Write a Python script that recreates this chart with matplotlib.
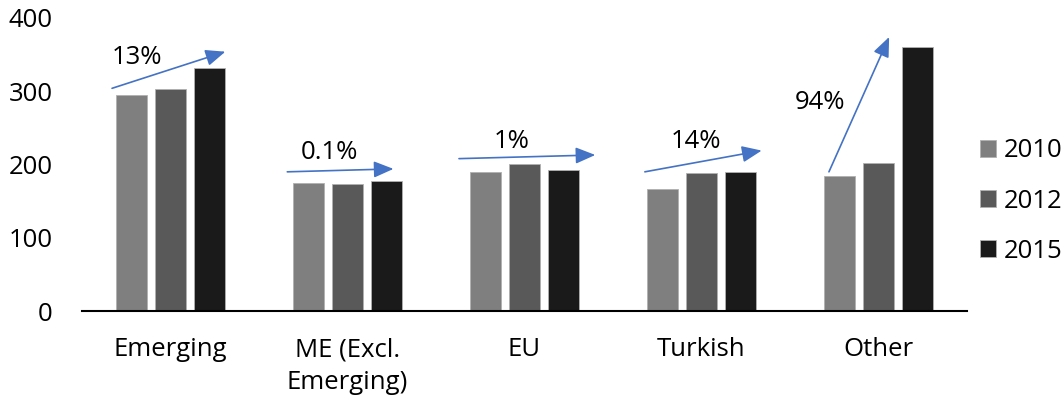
import matplotlib.pyplot as plt
import numpy as np

plt.rcParams['font.family'] = ['Open Sans', 'DejaVu Sans']

categories = ['Emerging', 'ME (Excl.\nEmerging)', 'EU', 'Turkish', 'Other']
years = ['2010', '2012', '2015']
values_2010 = [295, 175, 190, 167, 184]
values_2012 = [303, 174, 200, 188, 202]
values_2015 = [332, 177, 192, 190, 360]
colors = ['#7f7f7f', '#595959', '#1a1a1a']

# growth arrows: label, (x0, y0), (x1, y1), label position
growth_labels = ['13%', '0.1%', '1%', '14%', '94%']
arrow_starts = [(-0.33, 304), (0.66, 190), (1.63, 208), (2.68, 190), (3.72, 190)]
arrow_ends = [(0.31, 354), (1.26, 194), (2.40, 213), (3.34, 219), (4.06, 374)]
label_pos = [(-0.19, 346), (0.90, 216), (1.93, 231), (2.97, 231), (3.67, 284)]

FS = 18.5

fig = plt.figure(figsize=(10.63, 3.96), dpi=100)
ax = fig.add_axes([0.0771, 0.2146, 0.8326, 0.74])

x = np.arange(len(categories))
width = 0.175
offsets = [-0.22, 0.0, 0.22]
series = [values_2010, values_2012, values_2015]
for vals, off, col, yr in zip(series, offsets, colors, years):
    ax.bar(x + off, vals, width, color=col, edgecolor='#b0b0b0', linewidth=0.6, label=yr)

for lab, s, e, p in zip(growth_labels, arrow_starts, arrow_ends, label_pos):
    ax.annotate('', xy=e, xytext=s,
                arrowprops=dict(arrowstyle='-|>,head_length=0.6,head_width=0.25',
                                color='#4472c4', lw=1.2, mutation_scale=20,
                                shrinkA=0, shrinkB=0))
    ax.text(p[0], p[1], lab, ha='center', va='center', fontsize=FS, color='black')

ax.set_xlim(-0.5, 4.5)
ax.set_ylim(0, 400)
ax.set_yticks([0, 100, 200, 300, 400])
ax.set_xticks(x)
ax.set_xticklabels(categories, fontsize=FS, linespacing=1.38)
ax.tick_params(axis='y', length=0, labelsize=FS, pad=21)
ax.tick_params(axis='x', length=0, pad=19)
for side in ['top', 'right', 'left']:
    ax.spines[side].set_visible(False)
ax.spines['bottom'].set_linewidth(1.5)
ax.spines['bottom'].set_color('black')

ax.legend(loc='center left', bbox_to_anchor=(0.912, 0.492), bbox_transform=fig.transFigure,
          frameon=False, fontsize=FS, handlelength=0.65, handleheight=0.65,
          handletextpad=0.3, labelspacing=0.98, borderaxespad=0)

fig.savefig('out.png', dpi=100)
